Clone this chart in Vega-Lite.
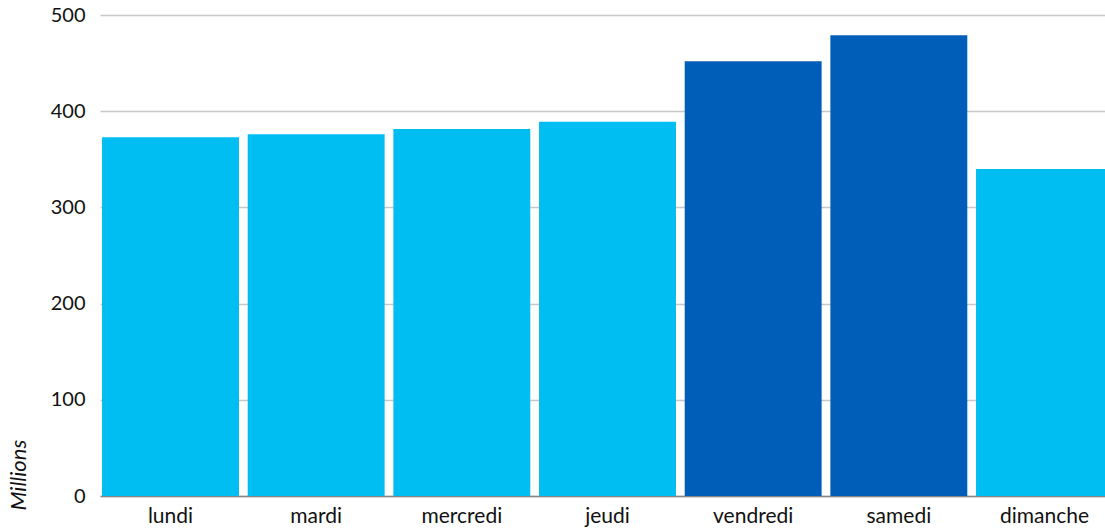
{
  "$schema": "https://vega.github.io/schema/vega-lite/v6.json",
  "autosize": "none",
  "width": 1005,
  "height": 481,
  "padding": {"left": 100, "top": 15, "right": 0, "bottom": 33},
  "background": "white",
  "config": {
    "view": {"stroke": null},
    "font": "Lato",
    "axis": {"labelFont": "Lato", "titleFont": "Lato"}
  },
  "data": {
    "values": [
      {"jour": "lundi", "valeur": 373, "groupe": "semaine"},
      {"jour": "mardi", "valeur": 376, "groupe": "semaine"},
      {"jour": "mercredi", "valeur": 381.5, "groupe": "semaine"},
      {"jour": "jeudi", "valeur": 389, "groupe": "semaine"},
      {"jour": "vendredi", "valeur": 452, "groupe": "weekend"},
      {"jour": "samedi", "valeur": 479, "groupe": "weekend"},
      {"jour": "dimanche", "valeur": 340, "groupe": "semaine"}
    ]
  },
  "mark": {"type": "bar", "clip": true},
  "encoding": {
    "x": {
      "field": "jour",
      "type": "nominal",
      "sort": null,
      "scale": {"range": [0, 1015], "paddingInner": 0.06, "paddingOuter": 0.014},
      "axis": {
        "title": null,
        "labelAngle": 0,
        "labelFontSize": 21,
        "labelColor": "#111",
        "labelPadding": 9,
        "ticks": false,
        "domain": true,
        "domainColor": "#888",
        "domainWidth": 1.5,
        "grid": false
      }
    },
    "y": {
      "field": "valeur",
      "type": "quantitative",
      "scale": {"domain": [0, 500], "nice": false},
      "axis": {
        "title": "Millions",
        "titleFontStyle": "italic",
        "titleFontWeight": "normal",
        "titleFontSize": 22,
        "titleColor": "#111",
        "titleAngle": -90,
        "titleAlign": "left",
        "titleBaseline": "middle",
        "titleX": -82,
        "titleY": 495,
        "values": [0, 100, 200, 300, 400, 500],
        "labelFontSize": 20,
        "labelColor": "#111",
        "labelPadding": 15,
        "ticks": false,
        "domain": false,
        "grid": true,
        "gridColor": "#c8c8c8",
        "gridWidth": 1.5
      }
    },
    "color": {
      "field": "groupe",
      "type": "nominal",
      "scale": {"domain": ["semaine", "weekend"], "range": ["#00BDF2", "#005EB8"]},
      "legend": null
    }
  }
}
